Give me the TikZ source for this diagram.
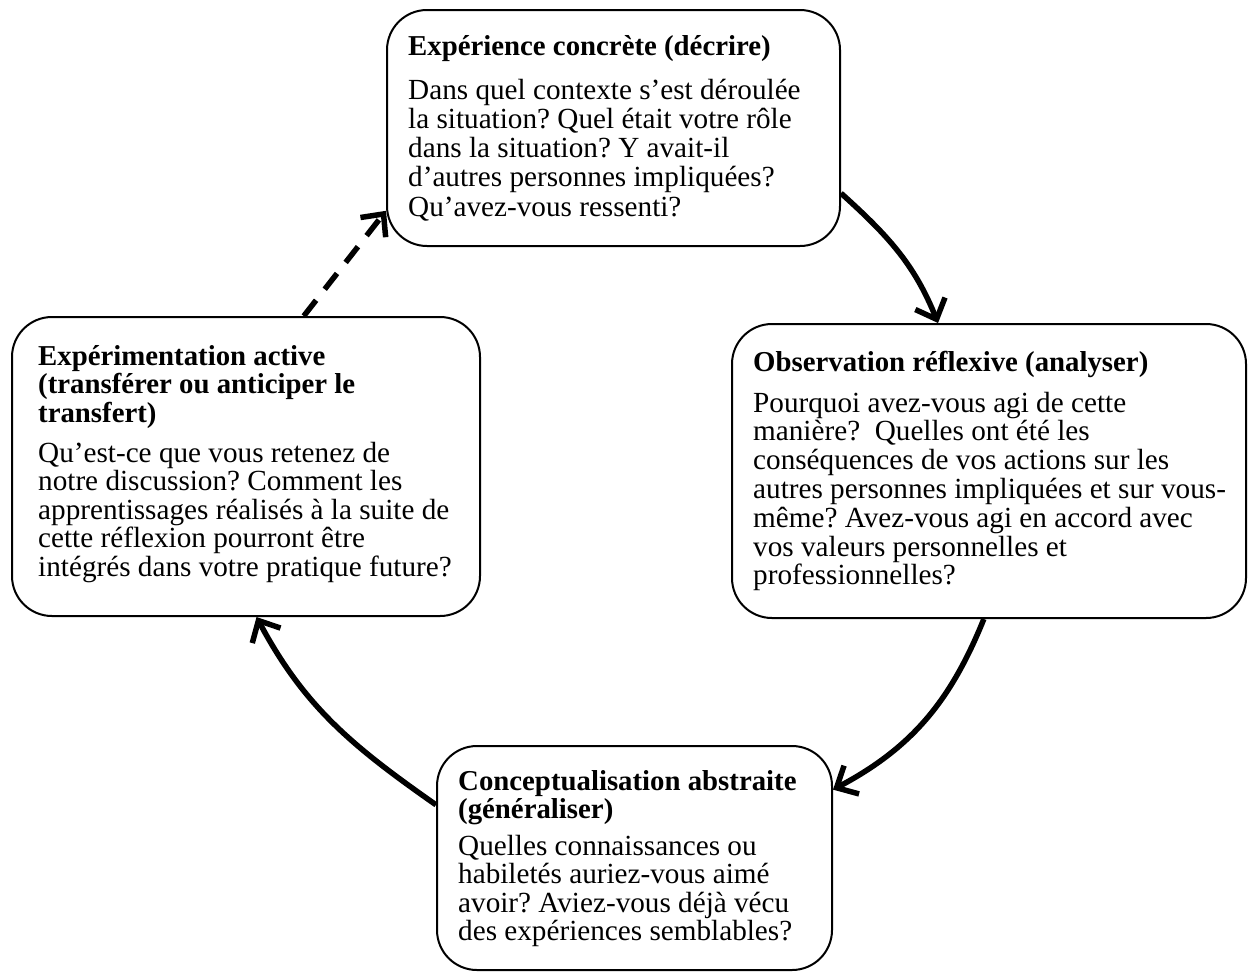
\documentclass[tikz,border=0pt]{standalone}
\usepackage{fontspec}
\setmainfont{Liberation Serif}
\usetikzlibrary{arrows.meta}
\begin{document}
\frenchspacing
\begin{tikzpicture}[x=1pt,y=-1pt,
  box/.style={draw, line width=2pt, rounded corners=40pt, inner sep=0pt},
  ttl/.style={anchor=base west, inner sep=0pt, font=\fontsize{28.8}{29}\selectfont\bfseries},
  bdy/.style={anchor=base west, inner sep=0pt, font=\fontsize{29.2}{29}\selectfont},
  flow/.style={line width=5.5pt, -{Straight Barb[length=17pt,width=32pt]}},
  dflow/.style={flow, dash pattern=on 20pt off 14pt}]
\useasboundingbox (0,0) rectangle (1249,975);

% boxes
\node[box, minimum width=453pt, minimum height=236pt] (top) at (613.5,128) {};
\node[box, minimum width=514pt, minimum height=294pt] (right) at (989,471) {};
\node[box, minimum width=468pt, minimum height=299pt] (left) at (246,466.5) {};
\node[box, minimum width=395pt, minimum height=224pt] (bot) at (634.5,858) {};

% top box text
\node[ttl] (tt0) at (408,55) {Expérience concrète (décrire)};
\foreach \t [count=\i from 0] in {{Dans quel contexte s’est déroulée},
  {la situation? Quel était votre rôle},
  {dans la situation? Y avait-il},
  {d’autres personnes impliquées?},
  {Qu’avez-vous ressenti?}}
  {\node[bdy] (tb\i) at (408,{99+29.3*\i}) {\t};}

% right box text
\node[ttl] (rt0) at (753,371) {Observation réflexive (analyser)};
\foreach \t [count=\i from 0] in {{Pourquoi avez-vous agi de cette},
  {manière?\ \ Quelles ont été les},
  {conséquences de vos actions sur les},
  {autres personnes impliquées et sur vous-},
  {même? Avez-vous agi en accord avec},
  {vos valeurs personnelles et},
  {professionnelles?}}
  {\node[bdy] (rb\i) at (753,{412+28.8*\i}) {\t};}

% left box text
\foreach \t [count=\i from 0] in {{Expérimentation active},
  {(transférer ou anticiper le},
  {transfert)}}
  {\node[ttl] (lt\i) at (38,{365+28.5*\i}) {\t};}
\foreach \t [count=\i from 0] in {{Qu’est-ce que vous retenez de},
  {notre discussion? Comment les},
  {apprentissages réalisés à la suite de},
  {cette réflexion pourront être},
  {intégrés dans votre pratique future?}}
  {\node[bdy] (lb\i) at (38,{462+28.5*\i}) {\t};}

% bottom box text
\foreach \t [count=\i from 0] in {{Conceptualisation abstraite},
  {(généraliser)}}
  {\node[ttl] (bt\i) at (458,{790+28*\i}) {\t};}
\foreach \t [count=\i from 0] in {{Quelles connaissances ou},
  {habiletés auriez-vous aimé},
  {avoir? Aviez-vous déjà vécu},
  {des expériences semblables?}}
  {\node[bdy] (bb\i) at (458,{855+28.5*\i}) {\t};}

% connectors
\draw[flow] (top.-16.5) to[out=-42, in=112] (right.109.1);
\draw[flow] (right.-92.7) to[out=-112, in=28] (bot.19.5);
\draw[flow] (bot.165.7) to[out=145, in=-62] (left.-86.6);
\draw[dflow] (left.69.4) -- (top.-160.8);
\end{tikzpicture}
\end{document}
